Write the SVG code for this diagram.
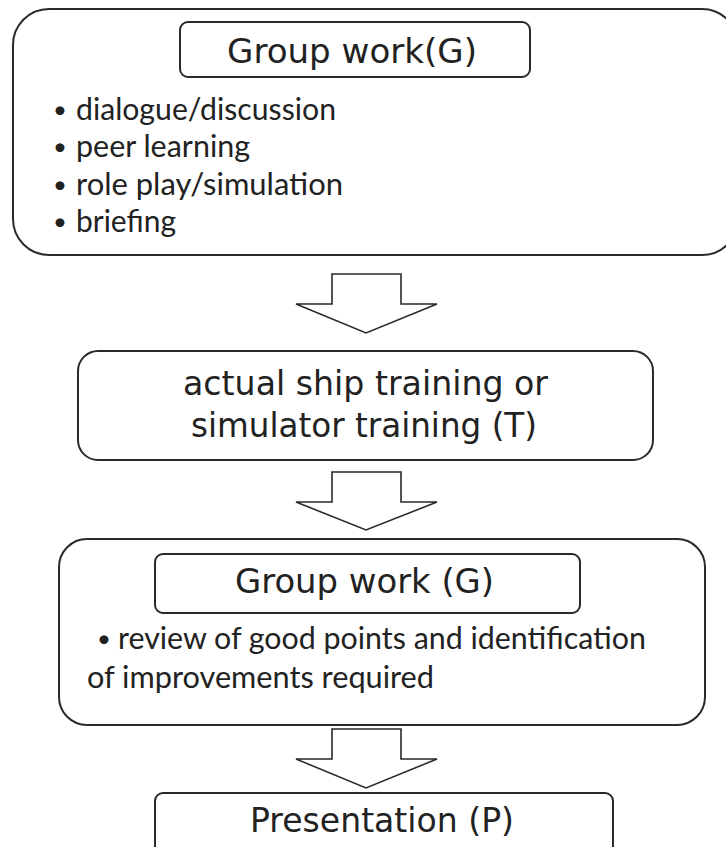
<svg xmlns="http://www.w3.org/2000/svg" width="726" height="847" viewBox="0 0 726 847">
<style>
.box{fill:none;stroke:#2a2a2a;stroke-width:2}
.arrow{fill:#fff;stroke:#2a2a2a;stroke-width:1.6;stroke-linejoin:miter}
.t{font-family:"DejaVu Sans","Liberation Sans",sans-serif;fill:#222}
.b{font-family:Lato,"Liberation Sans",sans-serif;fill:#222;font-size:30px}
.d{font-family:Lato,"Liberation Sans",sans-serif;fill:#222;font-size:24px}
</style>
<rect width="726" height="847" fill="#fff"/>
<g id="node-group-work-1">
<rect class="box" x="13" y="9" width="725" height="246" rx="36"/>
<rect class="box" x="180" y="22" width="350" height="55" rx="8"/>
<text class="t" x="227" y="63" font-size="33" textLength="250" lengthAdjust="spacingAndGlyphs">Group work(G)</text>
<text class="d" x="53" y="118">•</text>
<text class="b" x="76" y="120" textLength="260" lengthAdjust="spacingAndGlyphs">dialogue/discussion</text>
<text class="d" x="53" y="155">•</text>
<text class="b" x="76" y="157" textLength="174" lengthAdjust="spacingAndGlyphs">peer learning</text>
<text class="d" x="53" y="193">•</text>
<text class="b" x="76" y="195" textLength="267" lengthAdjust="spacingAndGlyphs">role play/simulation</text>
<text class="d" x="53" y="230">•</text>
<text class="b" x="76" y="232" textLength="100" lengthAdjust="spacingAndGlyphs">briefing</text>
</g>
<g id="node-training">
<rect class="box" x="78" y="351" width="575" height="109" rx="20"/>
<text class="t" x="183" y="395" font-size="33" textLength="365" lengthAdjust="spacingAndGlyphs">actual ship training or</text>
<text class="t" x="191" y="437" font-size="33" textLength="346" lengthAdjust="spacingAndGlyphs">simulator training (T)</text>
</g>
<g id="node-group-work-2">
<rect class="box" x="59" y="539" width="646" height="186" rx="28"/>
<rect class="box" x="155" y="554" width="425" height="59" rx="8"/>
<text class="t" x="235" y="593" font-size="33" textLength="259" lengthAdjust="spacingAndGlyphs">Group work (G)</text>
<text class="d" x="97" y="647">•</text>
<text class="b" x="118" y="649" textLength="528" lengthAdjust="spacingAndGlyphs">review of good points and identification</text>
<text class="b" x="87" y="688" textLength="347" lengthAdjust="spacingAndGlyphs">of improvements required</text>
</g>
<g id="node-presentation">
<rect class="box" x="155" y="793" width="458" height="62" rx="8"/>
<text class="t" x="250" y="832" font-size="34" textLength="264" lengthAdjust="spacingAndGlyphs">Presentation (P)</text>
</g>
<g id="connectors">
<polygon class="arrow" points="332,274 401,274 401,304 437,304 366,333 296,304 332,304"/>
<polygon class="arrow" points="332,472 401,472 401,502 437,502 366,530 296,502 332,502"/>
<polygon class="arrow" points="332,729 401,729 401,759 437,759 366,788 296,759 332,759"/>
</g>
</svg>
